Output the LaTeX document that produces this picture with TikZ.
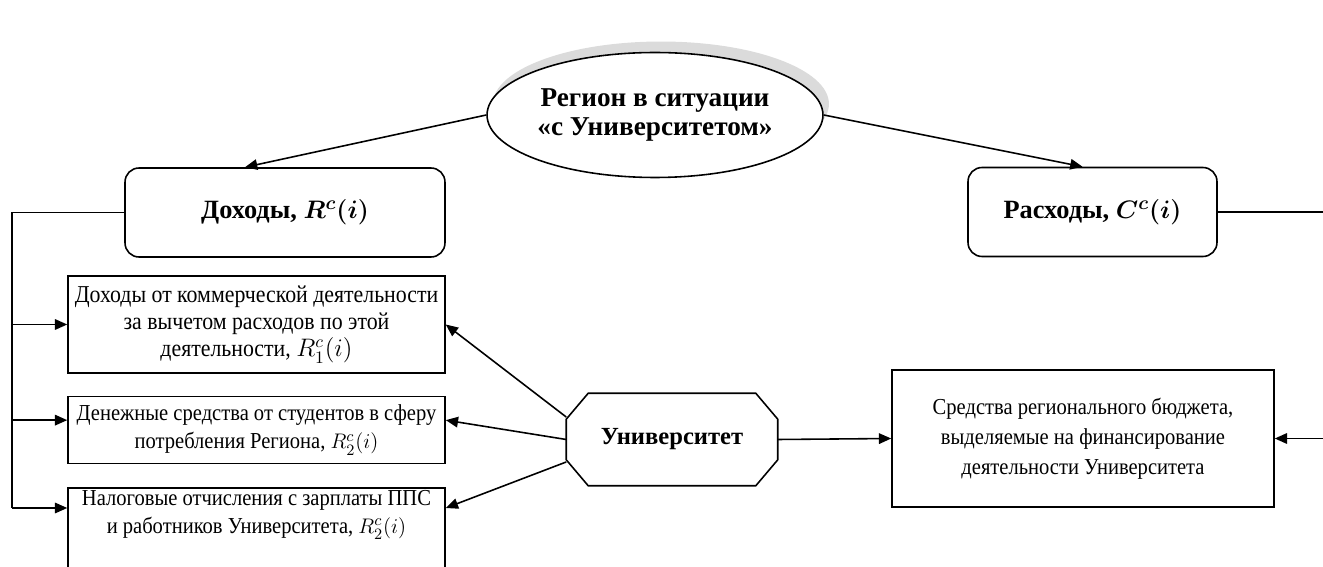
\documentclass[tikz,border=0pt]{standalone}
\usepackage{fontspec}
\setmainfont{Liberation Serif}
\newfontfamily\narrowserif[FakeStretch=0.9]{Liberation Serif}
\usepackage{amsmath}
\usepackage{amssymb}
\usetikzlibrary{shapes.geometric, arrows.meta, positioning, shadows}

\begin{document}
\begin{tikzpicture}[x=0.02cm, y=-0.02cm, line width=0.9pt,
  >={Triangle[length=7pt, width=6pt]},
  headbox/.style={rectangle, rounded corners=0.28cm, draw=black,
    minimum height=1.78cm, text centered,
    font=\fontsize{15}{16}\selectfont\bfseries\boldmath},
  plainbox/.style={rectangle, draw=black, align=center,
    font=\narrowserif\fontsize{13}{16}\selectfont},
  incbox/.style={plainbox, minimum width=7.54cm}]
  \useasboundingbox (0,0) rectangle (1323,567);

  \node (region) [ellipse,
    draw=black, fill=white,
    minimum width=6.72cm,
    minimum height=2.5cm,
    inner sep=0pt, align=center,
    font=\fontsize{15.5}{16}\selectfont\bfseries,
    drop shadow={shadow xshift=0.12cm, shadow yshift=0.22cm, fill=gray!40, opacity=0.7}]
    at (655,115) {Регион в ситуации\\«с Университетом»};

  \node (income) [headbox, minimum width=6.4cm] at (285,212.5) {Доходы, $R^c(i)$};
  \node (costs) [headbox, minimum width=4.98cm] at (1092.5,212) {Расходы, $C^c(i)$};

  \node (inc1) [incbox, minimum height=1.94cm,
    font=\narrowserif\fontsize{13.8}{15.5}\selectfont] at (256.5,324.5)
    {Доходы от коммерческой деятельности\\ за вычетом расходов по этой\\ деятельности, $R_1^c(i)$};
  \node (inc2) [incbox, minimum height=1.34cm, below=0.44cm of inc1]
    {Денежные средства от студентов в сферу\\ потребления Региона, $R_2^c(i)$};
  \node (inc3) [incbox, minimum height=2.6cm, below=0.46cm of inc2,
    label={[name=inc3txt, anchor=north, inner sep=1pt, align=center,
      font=\narrowserif\fontsize{13}{16}\selectfont]north:{Налоговые отчисления с зарплаты ППС\\ и работников Университета, $R_2^c(i)$}}] {};

  \node (univ) [rectangle,
    minimum width=4.2cm,
    minimum height=1.82cm,
    font=\fontsize{14}{16}\selectfont\bfseries] at (672,439.5) {Университет};
  % chamfered outline of the university node
  \draw ([xshift=0.44cm]univ.north west) -- ([xshift=-0.44cm]univ.north east)
    -- ([yshift=-0.52cm]univ.north east) -- ([yshift=0.52cm]univ.south east)
    -- ([xshift=-0.44cm]univ.south east) -- ([xshift=0.44cm]univ.south west)
    -- ([yshift=0.52cm]univ.south west) -- ([yshift=-0.52cm]univ.north west) -- cycle;

  \node (budget) [plainbox, minimum width=7.64cm, minimum height=2.74cm,
    font=\narrowserif\fontsize{13}{17}\selectfont] at (1083,438.5)
    {Средства регионального бюджета,\\ выделяемые на финансирование\\ деятельности Университета};

  \coordinate (busL) at (12,508);
  \coordinate (busR) at (1335,438.5);

  \draw[->] (region.west) -- ([xshift=-0.8cm]income.north);
  \draw[->] (region.east) -- ([xshift=-0.2cm]costs.north);

  \draw (income.west) -| (busL);
  \draw[->] (busL |- inc1.west) -- (inc1.west);
  \draw[->] (busL |- inc2.177) -- (inc2.177);
  \draw[->] (busL) -- (busL -| inc3.west);

  \draw[->] (univ.168) -- (inc1.east);
  \draw[->] (univ.west) -- (inc2.3);
  \draw[->] (univ.192) -- (busL -| inc3.east);
  \draw[->] (univ.east) -- (budget.west);

  \draw (costs.east) -| (busR);
  \draw[->] (busR) -- (budget.east);
\end{tikzpicture}
\end{document}
